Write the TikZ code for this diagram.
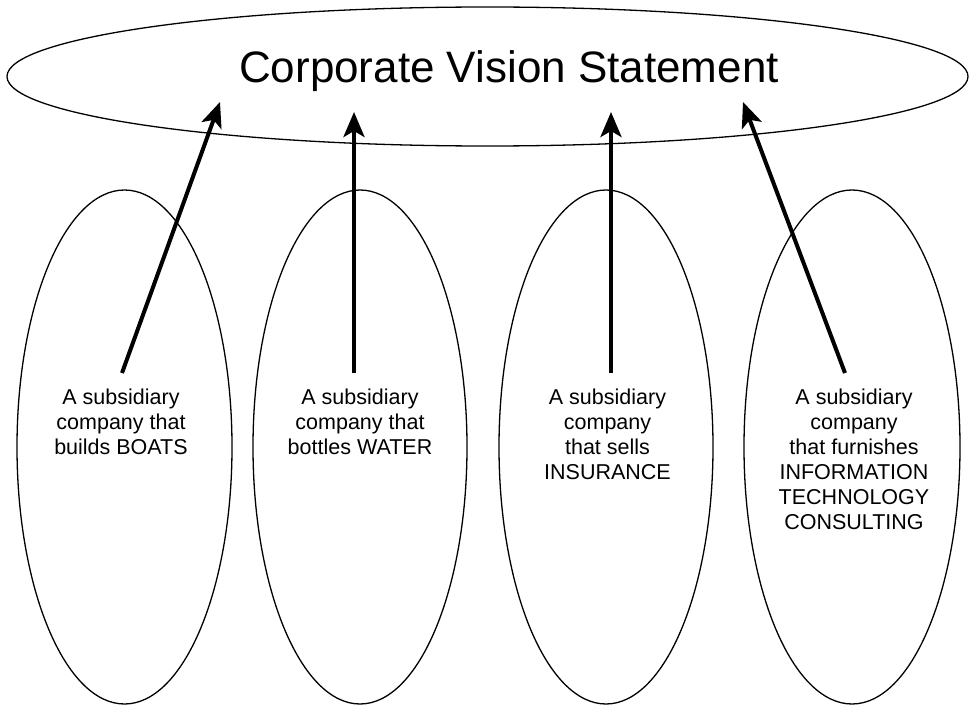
\documentclass[tikz,border=0pt]{standalone}
\usepackage{fontspec}
\setmainfont{Liberation Sans}
\usetikzlibrary{shapes.geometric,arrows.meta}
\begin{document}
\begin{tikzpicture}[x=1pt,y=-1pt,
  oval/.style={draw=black,line width=1.3pt,ellipse,inner sep=0pt},
  sublabel/.style={align=center,inner sep=0pt,anchor=north,font=\fontsize{21.5}{25}\selectfont},
  toparrow/.style={line width=4pt,-{Stealth[length=25pt,width=21pt,inset=6pt]}}]
\useasboundingbox (0,0) rectangle (969,706);
\node[oval,minimum width=961pt,minimum height=139pt] (vision) at (487.5,76.5) {};
\node[anchor=base,inner sep=0pt,font=\fontsize{44}{50}\selectfont] (title) at (509,83) {Corporate Vision Statement};
\node[oval,minimum width=215pt,minimum height=514pt] (e1) at (124.5,447) {};
\node[oval,minimum width=214pt,minimum height=514pt] (e2) at (360,447) {};
\node[oval,minimum width=214pt,minimum height=514pt] (e3) at (606,447) {};
\node[oval,minimum width=216pt,minimum height=514pt] (e4) at (852,447) {};
\node[sublabel] (t1) at (121,389) {A subsidiary\\company that\\builds BOATS};
\node[sublabel] (t2) at (360,389) {A subsidiary\\company that\\bottles WATER};
\node[sublabel] (t3) at (607.5,389) {A subsidiary\\company\\that sells\\INSURANCE};
\node[sublabel] (t4) at (854,389) {A subsidiary\\company\\that furnishes\\INFORMATION\\TECHNOLOGY\\CONSULTING};
\coordinate (s1) at (122,373);
\coordinate (h1) at (220,102);
\coordinate (s2) at (354,373);
\coordinate (h2) at (354,112);
\coordinate (s3) at (611,373);
\coordinate (h3) at (611,112);
\coordinate (s4) at (845,373);
\coordinate (h4) at (743,102);
\draw[toparrow] (s1) -- (h1);
\draw[toparrow] (s2) -- (h2);
\draw[toparrow] (s3) -- (h3);
\draw[toparrow] (s4) -- (h4);
\end{tikzpicture}
\end{document}
